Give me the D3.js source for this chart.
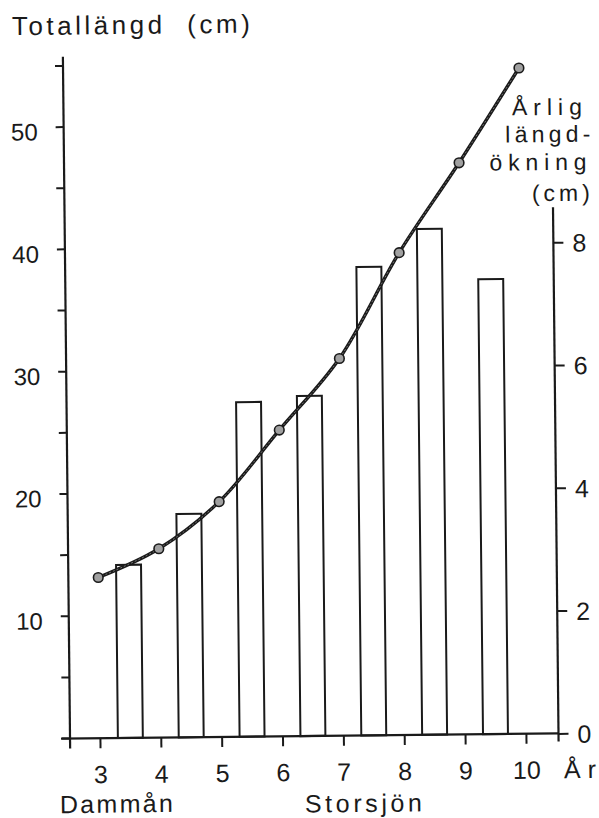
<!DOCTYPE html>
<html>
<head>
<meta charset="utf-8">
<script src="https://cdn.jsdelivr.net/npm/d3@7"></script>
<style>
  html, body { margin: 0; padding: 0; background: #fff; }
  svg { display: block; }
  text { font-family: "Liberation Sans", "DejaVu Sans", sans-serif; fill: #1a1a1a; }
</style>
</head>
<body>
<script>
// ---- data ----
const ages = [3, 4, 5, 6, 7, 8, 9, 10];
const totalLength = [13.1, 15.4, 19.2, 25.0, 30.8, 39.4, 46.7, 54.4];
const growthAges = [3.5, 4.5, 5.5, 6.5, 7.5, 8.5, 9.5];
const annualGrowth = [2.82, 3.64, 5.45, 5.54, 7.63, 8.24, 7.41];
const leftTicks = [0, 5, 10, 15, 20, 25, 30, 35, 40, 45, 50, 55];
const leftLabels = [10, 20, 30, 40, 50];
const rightTicks = [0, 2, 4, 6, 8];
const xTicks = [3, 4, 5, 6, 7, 8, 9, 10];

const W = 599, H = 818;
const axisX = 66.5, axisR = 555, base = 736;
const ink = "#1a1a1a";

const x = d3.scaleLinear().domain([3, 10]).range([96.4, 522.4]);
const yL = d3.scaleLinear().domain([0, 55]).range([735.5, 62.85]);
const yR = d3.scaleLinear().domain([0, 8]).range([736, 244.8]);

const svg = d3.select("body").append("svg").attr("width", W).attr("height", H);
const g = svg.append("g").attr("transform", "rotate(-0.6, 310, 400)");

// bars (annual growth)
const bw = 0.41;
g.append("g").selectAll("rect").data(growthAges).join("rect")
  .attr("x", d => x(d - bw / 2))
  .attr("width", d => x(d + bw / 2) - x(d - bw / 2))
  .attr("y", (d, i) => yR(annualGrowth[i]))
  .attr("height", (d, i) => yR(0) - yR(annualGrowth[i]))
  .attr("fill", "#fff").attr("stroke", ink).attr("stroke-width", 2);

// axis lines
g.append("line").attr("x1", axisX).attr("x2", axisX)
  .attr("y1", yL(55.7)).attr("y2", base + 10).attr("stroke", ink).attr("stroke-width", 2.2);
g.append("line").attr("x1", axisR).attr("x2", axisR)
  .attr("y1", yR(8.57)).attr("y2", base + 8).attr("stroke", ink).attr("stroke-width", 2.2);
g.append("line").attr("x1", axisX - 9).attr("x2", axisR)
  .attr("y1", base).attr("y2", base).attr("stroke", ink).attr("stroke-width", 2.2);

// left axis
const la = g.append("g").attr("transform", `translate(${axisX},0)`)
  .call(d3.axisLeft(yL).tickValues(leftTicks).tickSize(8).tickSizeOuter(0).tickPadding(18)
    .tickFormat(d => leftLabels.includes(d) ? String(d) : ""));
la.select(".domain").remove();
la.selectAll(".tick line").attr("stroke", ink).attr("stroke-width", 2);
la.selectAll(".tick text").attr("font-size", 24).attr("dy", 13)
  .attr("font-family", "Liberation Sans, sans-serif").attr("fill", ink);

// right axis
const ra = g.append("g").attr("transform", `translate(${axisR},0)`)
  .call(d3.axisRight(yR).tickValues(rightTicks).tickSize(10).tickSizeOuter(0).tickPadding(9));
ra.select(".domain").remove();
ra.selectAll(".tick line").attr("stroke", ink).attr("stroke-width", 2);
ra.selectAll(".tick text").attr("font-size", 25).attr("dy", "0.36em")
  .attr("font-family", "Liberation Sans, sans-serif").attr("fill", ink);

// bottom axis
const ba = g.append("g").attr("transform", `translate(0,${base})`)
  .call(d3.axisBottom(x).tickValues(xTicks).tickSize(10).tickSizeOuter(0).tickFormat(d3.format("d")));
ba.select(".domain").remove();
ba.selectAll(".tick line").attr("stroke", ink).attr("stroke-width", 2);
ba.selectAll(".tick text").attr("font-size", 25).attr("y", 45).attr("dy", 0)
  .attr("font-family", "Liberation Sans, sans-serif").attr("fill", ink);

// total length curve
const pts = ages.map((a, i) => [a, totalLength[i]]);
const line = d3.line().x(d => x(d[0])).y(d => yL(d[1])).curve(d3.curveCatmullRom);
g.append("path").datum(pts).attr("d", line)
  .attr("fill", "none").attr("stroke", ink).attr("stroke-width", 3.4);
g.append("path").datum(pts).attr("d", line)
  .attr("fill", "none").attr("stroke", "#8a8a8a").attr("stroke-width", 0.8).attr("stroke-dasharray", "2 2");
g.append("g").selectAll("circle").data(pts).join("circle")
  .attr("cx", d => x(d[0])).attr("cy", d => yL(d[1])).attr("r", 4.8)
  .attr("fill", "#a0a0a0").attr("stroke", ink).attr("stroke-width", 1.6);

// texts
function label(t, px, py, fs, len) {
  const el = g.append("text").attr("x", px).attr("y", py).attr("font-size", fs).text(t);
  if (len) el.attr("textLength", len).attr("lengthAdjust", "spacing");
  return el;
}
label("Totallängd  (cm)", 15.8, 32, 26, 238).attr("xml:space", "preserve").style("white-space", "pre");
label("Årlig", 515, 117.5, 23, 70);
label("längd-", 508, 144.5, 23, 85);
label("ökning", 492, 172.5, 23, 97);
label("(cm)", 534, 203.5, 23, 58);
label("År", 560, 781, 25, 32);
label("Dammån", 55.7, 810.5, 25, 113);
label("Storsjön", 300.7, 812.5, 25, 117);
</script>
</body>
</html>
